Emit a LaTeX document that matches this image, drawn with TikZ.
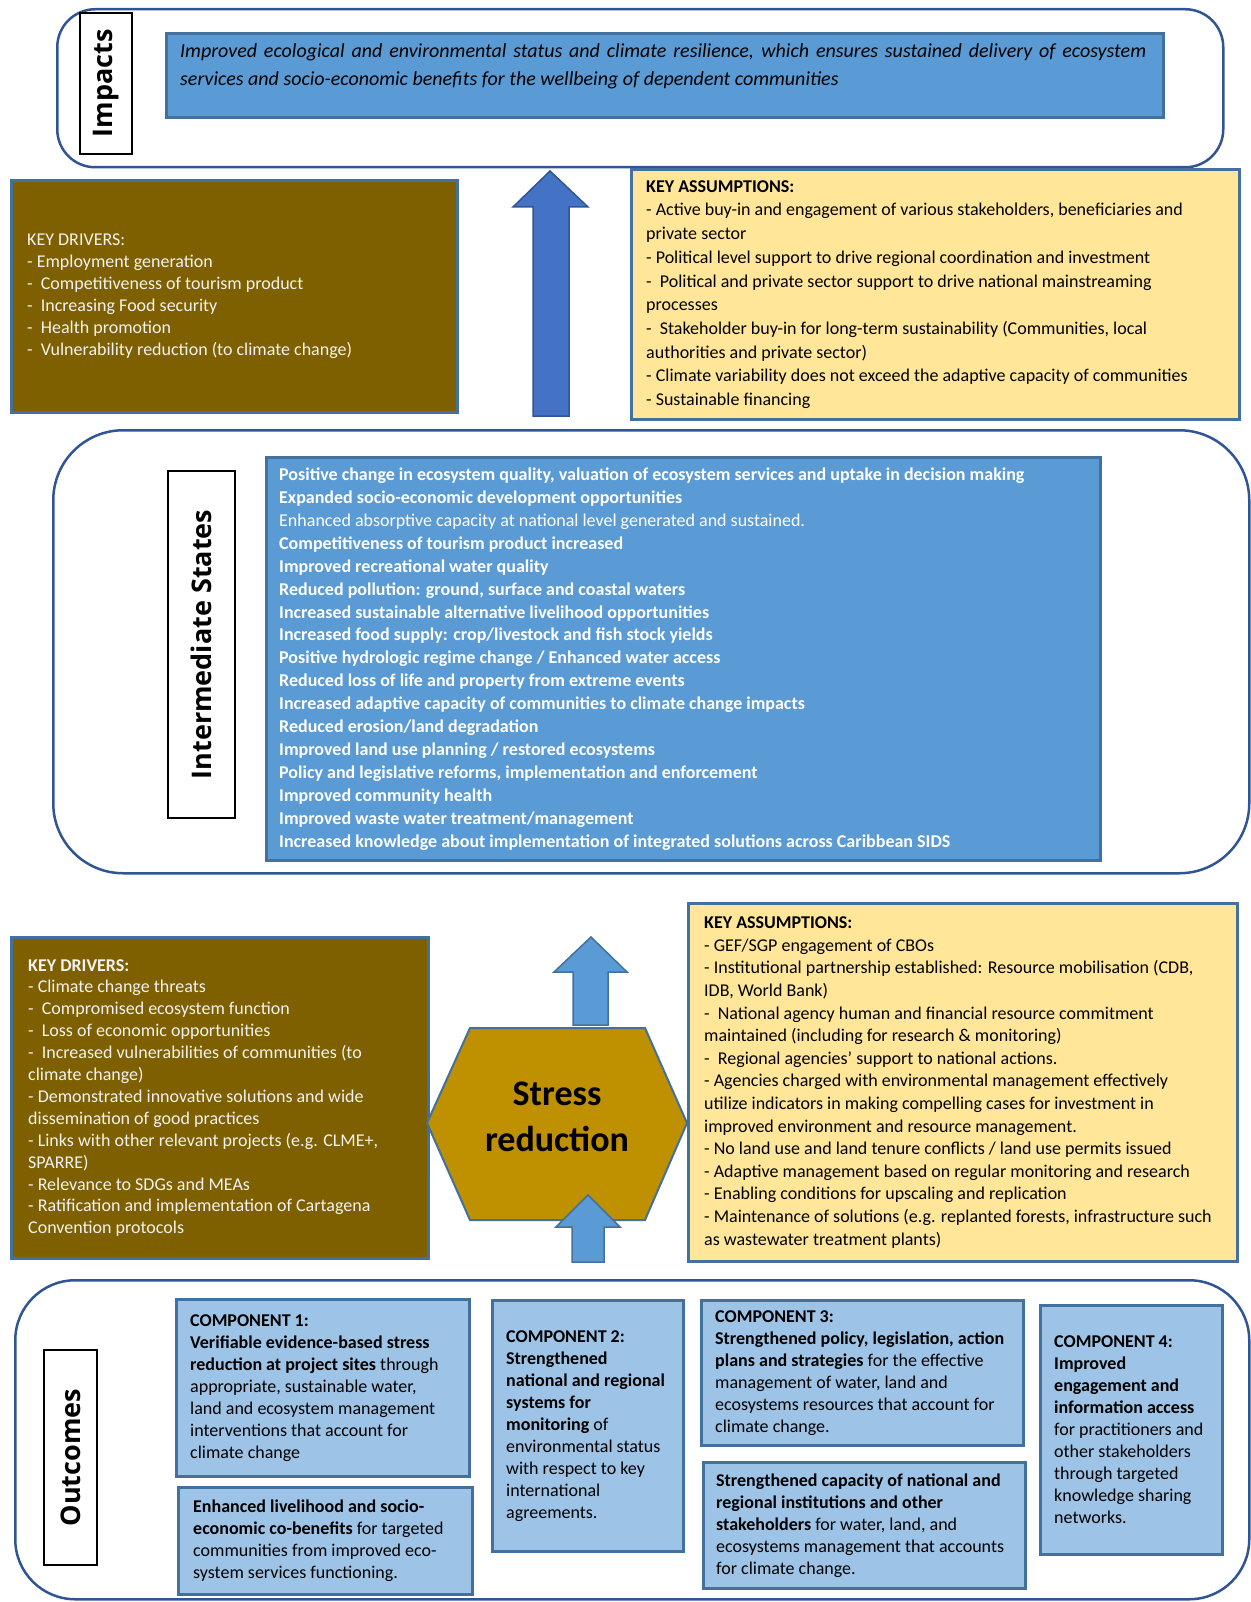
\documentclass[tikz,border=0pt]{standalone}
\usepackage{fontspec}
\setmainfont{Carlito}
\newfontfamily\labelfont{Open Sans}
\usetikzlibrary{positioning}

\definecolor{framecol}{HTML}{2F5597}
\definecolor{boxline}{HTML}{41719C}
\definecolor{midblue}{HTML}{5B9BD5}
\definecolor{deepblue}{HTML}{4472C4}
\definecolor{paleblue}{HTML}{9DC3E6}
\definecolor{drvcol}{HTML}{7F6000}
\definecolor{sand}{HTML}{FFE699}
\definecolor{hexgold}{HTML}{BF9000}
\definecolor{cream}{HTML}{F2F2F2}

\tikzset{
  dims/.style 2 args={minimum width=#1pt, minimum height=#2pt},
  stagebox/.style={draw=framecol, line width=2.5pt, rounded corners=#1, anchor=north west, inner sep=0pt},
  sidelabel/.style={draw=black, line width=2pt, fill=white, rotate=90, inner sep=0pt,
    font=\labelfont\bfseries\fontsize{27}{31}\selectfont},
  panel/.style={draw=boxline, line width=3pt, anchor=north west, inner sep=0pt},
  drvbox/.style={panel, fill=drvcol},
  asmbox/.style={panel, fill=sand},
  bluebox/.style={panel, fill=midblue},
  compbox/.style={panel, fill=paleblue, line width=2.5pt},
  bodytext/.style={align=left, inner sep=0pt, font=\fontsize{18}{#1}\selectfont},
  bodytext/.default=22,
  blockarrow/.style={draw=boxline, line width=1.5pt, fill=midblue}
}

\begin{document}
\begin{tikzpicture}[x=1pt,y=-1pt]
\useasboundingbox (0,0) rectangle (1250,1602);

% stage frames
\node[stagebox=38pt, dims={1166}{158}] (impactframe) at (56,8) {};
\node[stagebox=70pt, dims={1196}{443}] (stateframe) at (52,429) {};
\node[stagebox=60pt, dims={1234}{319}] (outframe) at (14,1279) {};

\node[sidelabel, dims={141}{52}] (impactlbl) at (106,83.5) {Impacts};
\node[sidelabel, dims={347}{67}] (statelbl) at (201.5,644.5) {Intermediate States};
\node[sidelabel, dims={215}{53}] (outlbl) at (70.5,1457.5) {Outcomes};

% impacts
\node[bluebox, dims={997}{84}] (impact) at (165,32) {};
\node[anchor=west, inner sep=0pt, text width=966pt, align=justify,
  font=\itshape\fontsize{20}{28}\selectfont] (impacttxt) at (180,66)
  {Improved ecological and environmental status and climate resilience, which ensures sustained delivery of ecosystem\linebreak
   services and socio-economic benefits for the wellbeing of dependent communities};

% upper drivers and assumptions
\node[drvbox, dims={446}{232}] (drv1) at (10,179) {};
\node[bodytext, text=cream, right=17pt of drv1.west] (drv1txt)
  {KEY DRIVERS:\\
   - Employment generation\\
   -~ Competitiveness of tourism product\\
   -~ Increasing Food security\\
   -~ Health promotion\\
   -~ Vulnerability reduction (to climate change)};

\node[asmbox, dims={608}{250}] (asm1) at (630,168) {};
\node[bodytext=23.7, right=16pt of asm1.west] (asm1txt)
  {\textbf{KEY ASSUMPTIONS:}\\
   - Active buy-in and engagement of various stakeholders, beneficiaries and\\
   private sector\\
   - Political level support to drive regional coordination and investment\\
   -~ Political and private sector support to drive national mainstreaming\\
   processes\\
   -~ Stakeholder buy-in for long-term sustainability (Communities, local\\
   authorities and private sector)\\
   - Climate variability does not exceed the adaptive capacity of communities\\
   - Sustainable financing};

\draw[blockarrow, fill=deepblue, draw=framecol] (533,416) -- (533,207) -- (513,207) -- (550,171)
  -- (588,207) -- (569,207) -- (569,416) -- cycle;

% intermediate states
\node[bluebox, dims={834}{403}] (states) at (265,456) {};
\node[align=left, inner sep=0pt, text=white, font=\bfseries\fontsize{18}{22.9}\selectfont,
  right=14pt of states.west] (statestxt)
  {Positive change in ecosystem quality, valuation of ecosystem services and uptake in decision making\\
   Expanded socio-economic development opportunities\\
   {\mdseries Enhanced absorptive capacity at national level generated and sustained.}\\
   Competitiveness of tourism product increased\\
   Improved recreational water quality\\
   Reduced pollution: ground, surface and coastal waters\\
   Increased sustainable alternative livelihood opportunities\\
   Increased food supply: crop/livestock and fish stock yields\\
   Positive hydrologic regime change / Enhanced water access\\
   Reduced loss of life and property from extreme events\\
   Increased adaptive capacity of communities to climate change impacts\\
   Reduced erosion/land degradation\\
   Improved land use planning / restored ecosystems\\
   Policy and legislative reforms, implementation and enforcement\\
   Improved community health\\
   Improved waste water treatment/management\\
   Increased knowledge about implementation of integrated solutions across Caribbean SIDS};

% lower drivers and assumptions
\node[drvbox, dims={417}{321}] (drv2) at (10,936) {};
\node[bodytext=21.9, text=cream, right=18pt of drv2.west] (drv2txt)
  {\textbf{KEY DRIVERS:}\\
   - Climate change threats\\
   -~ Compromised ecosystem function\\
   -~ Loss of economic opportunities\\
   -~ Increased vulnerabilities of communities (to\\
   climate change)\\
   - Demonstrated innovative solutions and wide\\
   dissemination of good practices\\
   - Links with other relevant projects (e.g. CLME+,\\
   SPARRE)\\
   - Relevance to SDGs and MEAs\\
   - Ratification and implementation of Cartagena\\
   Convention protocols};

\node[asmbox, dims={549}{358}] (asm2) at (687,902) {};
\node[bodytext=22.6, right=17pt of asm2.west] (asm2txt)
  {\textbf{KEY ASSUMPTIONS:}\\
   - GEF/SGP engagement of CBOs\\
   - Institutional partnership established: Resource mobilisation (CDB,\\
   IDB, World Bank)\\
   -~ National agency human and financial resource commitment\\
   maintained (including for research \& monitoring)\\
   -~ Regional agencies’ support to national actions.\\
   - Agencies charged with environmental management effectively\\
   utilize indicators in making compelling cases for investment in\\
   improved environment and resource management.\\
   - No land use and land tenure conflicts / land use permits issued\\
   - Adaptive management based on regular monitoring and research\\
   - Enabling conditions for upscaling and replication\\
   - Maintenance of solutions (e.g. replanted forests, infrastructure such\\
   as wastewater treatment plants)};

% stress reduction
\draw[draw=boxline, line width=2pt, fill=hexgold] (427,1123) -- (470,1028) -- (645,1028)
  -- (687,1123) -- (645,1220) -- (470,1220) -- cycle;
\node[align=center, font=\bfseries\fontsize{36}{46}\selectfont] (stress) at (557,1117) {Stress\\reduction};

\draw[blockarrow] (573,1025) -- (573,972) -- (554,972) -- (591,937)
  -- (627,972) -- (608,972) -- (608,1025) -- cycle;
\draw[blockarrow] (572,1262) -- (572,1227) -- (556,1227) -- (588,1195)
  -- (620,1227) -- (604,1227) -- (604,1262) -- cycle;

% outcomes
\node[compbox, dims={293}{177}] (comp1) at (175,1298) {};
\node[bodytext, right=15pt of comp1.west] (comp1txt)
  {\textbf{COMPONENT 1:}\\
   \textbf{Verifiable evidence-based stress}\\
   \textbf{reduction at project sites} through\\
   appropriate, sustainable water,\\
   land and ecosystem management\\
   interventions that account for\\
   climate change};

\node[compbox, dims={294}{107}] (comp1b) at (177,1486) {};
\node[bodytext, right=16pt of comp1b.west] (comp1btxt)
  {\textbf{Enhanced livelihood and socio-}\\
   \textbf{economic co-benefits} for targeted\\
   communities from improved eco-\\
   system services functioning.};

\node[compbox, dims={191}{251}] (comp2) at (491,1299) {};
\node[bodytext, right=15pt of comp2.west] (comp2txt)
  {\textbf{COMPONENT 2:}\\
   \textbf{Strengthened}\\
   \textbf{national and regional}\\
   \textbf{systems for}\\
   \textbf{monitoring} of\\
   environmental status\\
   with respect to key\\
   international\\
   agreements.};

\node[compbox, dims={322}{145}] (comp3) at (700,1299) {};
\node[bodytext, right=15pt of comp3.west] (comp3txt)
  {\textbf{COMPONENT 3:}\\
   \textbf{Strengthened policy, legislation, action}\\
   \textbf{plans and strategies} for the effective\\
   management of water, land and\\
   ecosystems resources that account for\\
   climate change.};

\node[compbox, dims={322}{126}] (comp3b) at (702,1461) {};
\node[bodytext, right=14pt of comp3b.west] (comp3btxt)
  {\textbf{Strengthened capacity of national and}\\
   \textbf{regional institutions and other}\\
   \textbf{stakeholders} for water, land, and\\
   ecosystems management that accounts\\
   for climate change.};

\node[compbox, dims={182}{249}] (comp4) at (1039,1304) {};
\node[bodytext, right=15pt of comp4.west] (comp4txt)
  {\textbf{COMPONENT 4:}\\
   \textbf{Improved}\\
   \textbf{engagement and}\\
   \textbf{information access}\\
   for practitioners and\\
   other stakeholders\\
   through targeted\\
   knowledge sharing\\
   networks.};
\end{tikzpicture}
\end{document}
